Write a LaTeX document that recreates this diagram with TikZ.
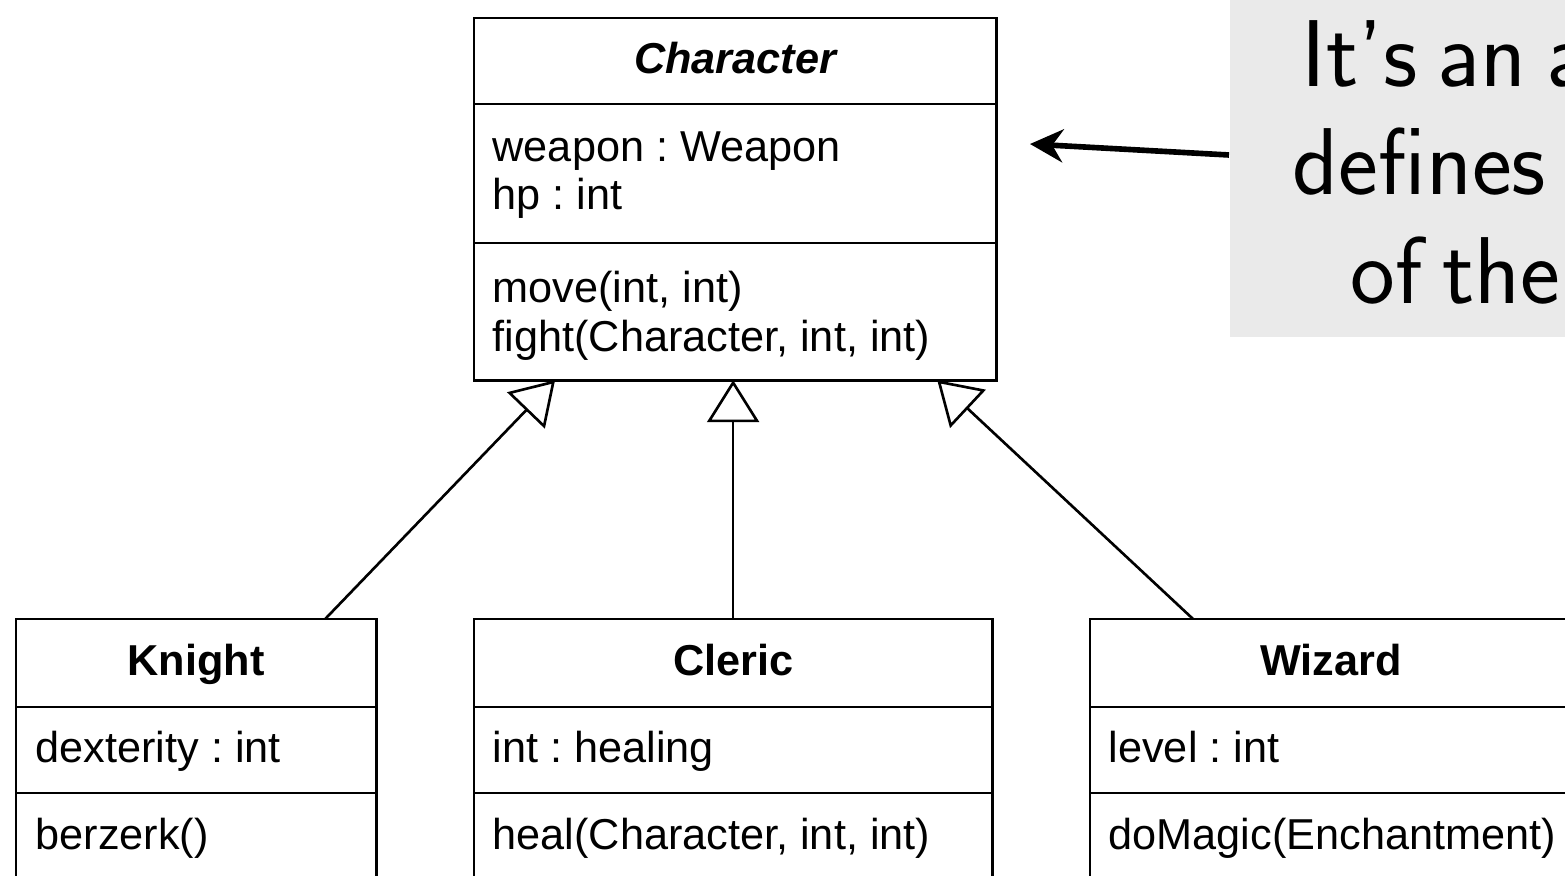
\documentclass[tikz,border=0pt]{standalone}
\usepackage{fontspec}
\setmainfont{Liberation Sans}
\frenchspacing
\usetikzlibrary{arrows.meta}
\definecolor{notegray}{HTML}{EAEAEA}
\newcommand\notefont{\fontsize{27}{32}\sffamily\setlength{\spaceskip}{0.21em}}
\tikzset{
	classbox/.style={draw, line width=0.85pt, inner sep=0pt, outer sep=0pt, anchor=north west},
	member/.style={anchor=base west, inner sep=0pt, font=\fontsize{12.3}{14}\selectfont},
	classname/.style={anchor=base, inner sep=0pt, font=\fontsize{12.3}{14}\selectfont\bfseries},
	inherit/.style={line width=0.75pt, -{Triangle[open, length=0.42cm, width=0.52cm]}},
	notetext/.style={anchor=base west, inner sep=0pt, font=\notefont},
}
\begin{document}
\begin{tikzpicture}[x=0.01cm, y=-0.01cm]
\useasboundingbox (0,0) rectangle (1565,876);
\clip (0,0) rectangle (1565,876);

% the note, cut off at the right
\node[fill=notegray, inner sep=0pt, anchor=west, minimum width=4cm, minimum height=3.64cm] (note) at (1229,155) {};
\node[notetext] (line1) at (1301,87) {It’s an a};
\node[notetext] (line2) at (1292,195) {defines};
\node[notetext] (line3) at (1350,304) {of the};
\coordinate (pointer) at (1030,144);
\draw[line width=1.6pt, -{Stealth[length=0.33cm, width=0.33cm]}] (note.west) -- (pointer);

% classes
\node[classbox, minimum width=5.22cm, minimum height=3.62cm] (char) at (474,18) {};
\node[classbox, minimum width=3.6cm, minimum height=3cm] (knight) at (16,619) {};
\node[classbox, minimum width=5.18cm, minimum height=3cm] (cleric) at (474,619) {};
\node[classbox, minimum width=4.82cm, minimum height=3cm] (wizard) at (1090,619) {};

\foreach \y in {104,243}
	\draw[line width=0.85pt] (char.west |- 0,\y) -- (char.east |- 0,\y);
\foreach \b in {knight,cleric,wizard}
	\foreach \y in {707,793}
		\draw[line width=0.85pt] (\b.west |- 0,\y) -- (\b.east |- 0,\y);

\node[classname] (charname) at (char.north |- 0,74) {\itshape Character};
\node[member] (weapon) at (492,162) {weapon : Weapon};
\node[member] (hp) at (492,210) {hp : int};
\node[member] (move) at (492,303) {move(int, int)};
\node[member] (fight) at (492,352) {fight(Character, int, int)};

\node[classname] (knightname) at (knight.north |- 0,676) {Knight};
\node[member] (dex) at (35,763) {dexterity : int};
\node[member] (berzerk) at (35,850) {berzerk()};

\node[classname] (clericname) at (cleric.north |- 0,676) {Cleric};
\node[member] (healing) at (492,763) {int : healing};
\node[member] (heal) at (492,850) {heal(Character, int, int)};

\node[classname] (wizardname) at (wizard.north |- 0,676) {Wizard};
\node[member] (level) at (1108,763) {level : int};
\node[member] (magic) at (1108,850) {doMagic(Enchantment)};

% generalisation
\draw[inherit] ([xshift=1.29cm]knight.north) -- ([xshift=-1.8cm]char.south);
\draw[inherit] (cleric.north) -- (cleric.north |- char.south);
\draw[inherit] ([xshift=1.03cm]wizard.north west) -- ([xshift=2.02cm]char.south);

\end{tikzpicture}
\end{document}
